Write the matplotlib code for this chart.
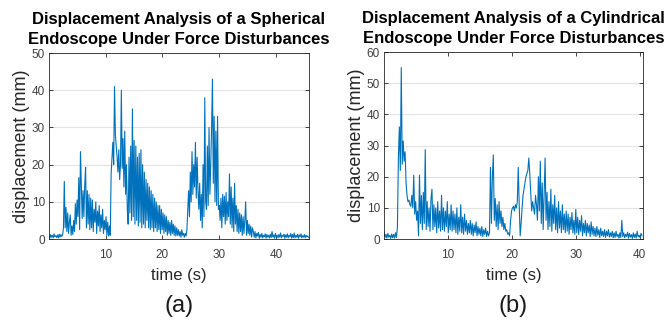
import matplotlib
matplotlib.use("Agg")
import matplotlib.pyplot as plt
import numpy as np

plt.rcParams['font.family'] = ['Liberation Sans', 'DejaVu Sans']

# sampling step of both recordings (s)
dt = 0.15

# (a) spherical endoscope, displacement (mm)
disp_sph = [
    0.8, 0.2, 1.2, 0.5, 1.0, 0.3, 1.4, 0.6, 0.9, 0.4,
    1.1, 0.3, 1.3, 0.5, 1.2, 0.7, 1.0, 3.0, 15.5, 3.0,
    8.5, 2.0, 7.0, 1.5, 4.5, 6.5, 1.0, 3.5, 1.2, 5.0,
    2.0, 9.5, 4.0, 10.5, 6.0, 16.5, 2.5, 23.5, 15.0, 5.5,
    13.0, 6.0, 14.5, 19.3, 3.0, 13.0, 4.0, 12.0, 2.5, 11.0,
    3.0, 10.5, 2.0, 8.0, 4.5, 10.0, 1.5, 7.5, 3.5, 9.0,
    2.0, 6.5, 3.0, 8.0, 1.5, 5.0, 2.5, 6.0, 1.0, 4.5,
    0.8, 3.5, 1.0, 17.5, 22.0, 26.0, 20.0, 41.0, 28.0, 25.0,
    22.0, 18.0, 24.0, 16.0, 20.0, 40.0, 19.0, 27.0, 14.0, 29.0,
    12.0, 20.0, 8.0, 4.0, 22.0, 7.0, 25.0, 5.0, 35.0, 6.0,
    26.5, 4.0, 25.0, 5.0, 22.0, 3.5, 23.0, 4.5, 24.0, 3.0,
    20.0, 4.0, 18.0, 3.0, 16.0, 5.0, 15.0, 3.0, 14.0, 2.5,
    13.0, 3.0, 12.0, 2.0, 11.0, 3.0, 10.0, 2.0, 9.0, 2.5,
    9.0, 1.5, 8.0, 2.5, 7.0, 1.5, 6.5, 2.0, 6.0, 1.0,
    5.0, 1.5, 4.5, 1.0, 5.0, 1.5, 4.0, 1.0, 3.5, 0.8,
    3.0, 1.0, 2.5, 0.8, 2.0, 0.5, 2.5, 1.0, 1.5, 0.5,
    1.5, 0.8, 2.5, 8.0, 13.0, 6.0, 18.0, 10.0, 23.5, 12.0,
    20.0, 14.0, 26.0, 11.0, 22.0, 13.0, 8.0, 15.0, 5.0, 12.0,
    3.0, 20.0, 6.0, 38.0, 10.0, 8.0, 25.0, 9.0, 30.0, 12.0,
    20.0, 30.0, 43.0, 15.0, 33.0, 10.0, 29.0, 9.0, 33.0, 8.0,
    9.0, 5.0, 11.0, 3.0, 12.0, 6.0, 11.5, 4.0, 12.5, 5.0,
    10.0, 6.0, 17.5, 4.0, 14.0, 3.0, 11.0, 2.0, 15.0, 4.0,
    9.0, 2.0, 8.0, 1.5, 7.0, 2.0, 6.5, 1.0, 6.0, 1.5,
    5.0, 10.0, 1.0, 5.0, 1.5, 4.0, 1.0, 3.5, 0.5, 3.0,
    2.0, 0.5, 2.0, 0.3, 1.5, 0.8, 1.8, 0.2, 1.2, 0.5,
    1.5, 0.3, 1.0, 0.6, 1.4, 0.2, 1.2, 0.5, 1.0, 0.3,
    1.3, 0.4, 2.0, 0.5, 1.1, 0.2, 1.5, 0.6, 1.0, 0.3,
    1.2, 0.5, 1.6, 0.3, 1.0, 0.7, 1.3, 0.2, 1.1, 0.5,
    1.4, 0.3, 1.0, 0.6, 1.5, 0.2, 1.2, 0.4, 1.6, 0.3,
    1.0, 0.5, 1.3, 0.2, 1.1, 0.6, 1.4, 0.3, 0.9, 0.5,
    1.2, 0.3, 1.0, 0.6, 0.8, 0.4,
]

# (b) cylindrical endoscope, displacement (mm)
disp_cyl = [
    2.5, 0.5, 1.5, 0.3, 1.8, 0.6, 1.2, 0.2, 1.6, 0.4,
    1.5, 0.3, 2.0, 0.5, 4.0, 26.0, 36.0, 22.0, 55.0, 24.0,
    31.5, 25.0, 28.0, 18.0, 14.0, 12.0, 12.5, 11.0, 10.5, 14.0,
    10.0, 20.5, 8.0, 12.0, 6.0, 9.0, 1.0, 20.5, 5.0, 14.0,
    3.0, 15.0, 5.0, 28.7, 3.0, 12.0, 4.0, 10.0, 2.5, 13.0,
    16.0, 3.0, 11.0, 4.0, 10.0, 2.0, 12.0, 3.5, 9.0, 2.5,
    14.0, 3.0, 10.0, 2.5, 9.0, 4.0, 12.0, 2.0, 8.0, 3.0,
    11.0, 2.5, 9.0, 3.0, 8.0, 2.0, 10.0, 1.5, 7.0, 2.5,
    11.0, 2.0, 7.0, 1.5, 8.0, 2.5, 6.0, 1.5, 5.0, 2.0,
    6.0, 1.5, 5.0, 1.0, 4.5, 2.0, 5.5, 1.0, 4.0, 1.5,
    3.5, 1.0, 4.0, 0.8, 3.0, 1.5, 3.5, 0.8, 2.5, 1.0,
    2.0, 23.0, 5.0, 20.0, 27.0, 6.0, 13.0, 4.0, 11.0, 3.0,
    12.0, 5.0, 9.0, 4.0, 7.0, 3.0, 5.0, 2.5, 3.0, 1.5,
    2.0, 1.0, 6.0, 9.0, 10.0, 10.5, 9.0, 11.0, 10.0, 12.0,
    23.0, 11.0, 1.0, 5.0, 10.0, 14.0, 16.0, 18.0, 20.0, 21.0,
    22.0, 26.0, 21.0, 15.0, 9.0, 12.0, 10.0, 8.0, 14.0, 11.0,
    6.0, 20.0, 9.0, 25.0, 5.0, 18.0, 3.0, 14.0, 26.0, 6.0,
    15.0, 3.0, 12.0, 4.0, 16.0, 2.5, 11.0, 5.0, 14.0, 3.0,
    10.0, 2.0, 12.0, 3.5, 9.0, 2.0, 11.0, 3.0, 8.0, 2.0,
    9.0, 2.5, 8.0, 1.5, 7.0, 3.0, 8.5, 2.0, 6.0, 1.5,
    9.5, 2.0, 7.0, 1.5, 6.0, 2.5, 7.5, 1.0, 5.0, 2.0,
    6.0, 1.0, 5.0, 2.0, 4.5, 0.8, 5.5, 1.5, 4.0, 1.0,
    3.5, 0.8, 4.0, 1.2, 3.0, 0.5, 3.5, 1.0, 2.5, 0.8,
    3.0, 0.5, 2.5, 1.0, 3.0, 0.6, 2.0, 0.8, 2.5, 0.4,
    2.0, 0.5, 2.5, 0.8, 1.5, 0.3, 2.0, 0.5, 6.0, 0.8,
    2.0, 0.4, 1.5, 0.8, 2.2, 0.3, 1.8, 0.6, 1.4, 0.2,
    2.0, 0.5, 1.6, 0.3, 2.5, 0.7, 1.2, 0.4, 1.8, 1.0,
]

t_sph = np.arange(len(disp_sph)) * dt
t_cyl = np.arange(len(disp_cyl)) * dt

titles = ['Displacement Analysis of a Spherical\nEndoscope Under Force Disturbances',
          'Displacement Analysis of a Cylindrical\nEndoscope Under Force Disturbances']
labels = ['(a)', '(b)']
ylims = [50, 60]
xlims = [45.8, 40.5]

fig = plt.figure(figsize=(6.69, 3.2), dpi=100)
ax1 = fig.add_axes([0.0732, 0.2531, 0.3886, 0.581])
ax2 = fig.add_axes([0.574, 0.2531, 0.387, 0.584])

for ax, t, d, title, lab, ym, xm in zip([ax1, ax2], [t_sph, t_cyl], [disp_sph, disp_cyl],
                                       titles, labels, ylims, xlims):
    ax.plot(t, d, color='#0072BD', lw=0.8)
    ax.set_xlim(0, xm)
    ax.set_ylim(0, ym)
    ax.set_xticks([10, 20, 30, 40])
    ax.set_yticks(np.arange(0, ym + 1, 10))
    ax.yaxis.grid(True, color='#e3e3e3', lw=0.8)
    ax.set_axisbelow(True)
    ax.tick_params(direction='in', top=True, right=True, length=3, width=0.6,
                   labelsize=8.5, colors='#262626', labelcolor='#404040')
    ax.tick_params(axis='x', pad=7)
    ax.tick_params(axis='y', pad=3)
    for s in ax.spines.values():
        s.set_color('#262626')
        s.set_linewidth(0.6)
    ax.set_title(title, fontsize=12, fontweight='bold', pad=6.5, linespacing=1.4)
    ax.set_ylabel('displacement (mm)', fontsize=13, color='#262626', labelpad=1)
    ax.set_xlabel('time (s)', fontsize=12, color='#262626', labelpad=5)
    ax.text(0.5, -0.3, lab, transform=ax.transAxes, ha='center', va='top',
            fontsize=17, color='#1a1a1a')

fig.savefig('out.png', dpi=100)
